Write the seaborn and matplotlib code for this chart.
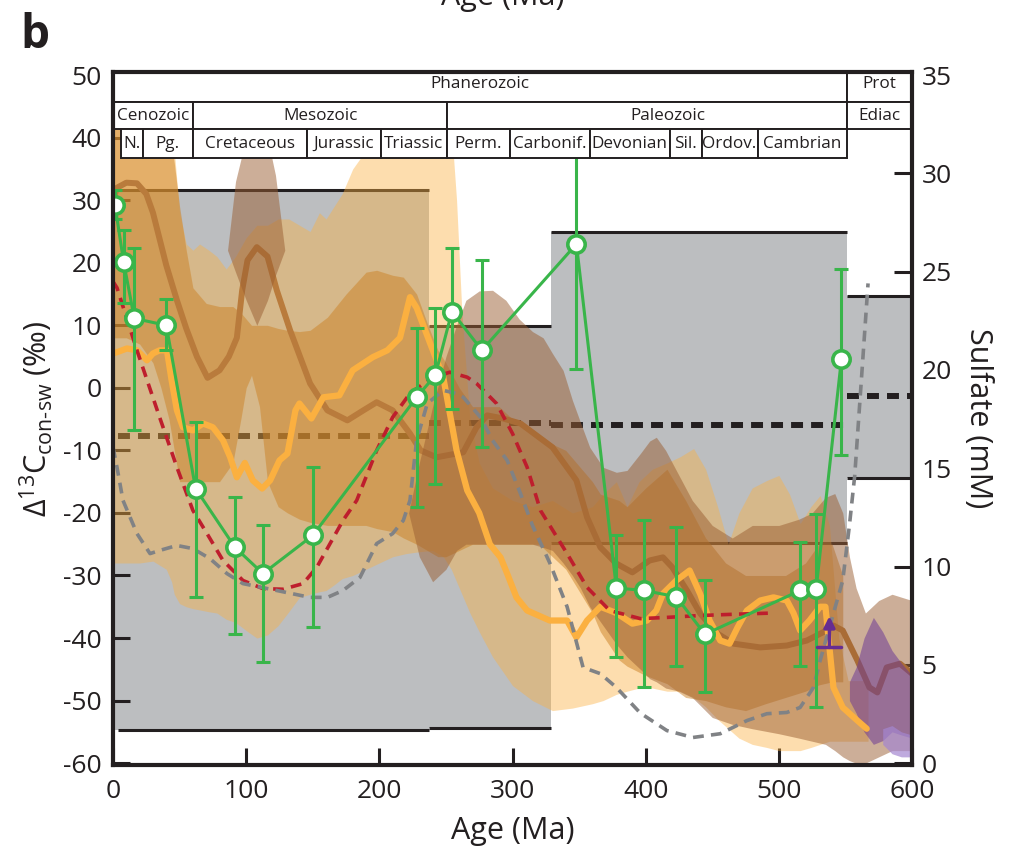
import numpy as np
import pandas as pd
import matplotlib
matplotlib.use("Agg")
import matplotlib.pyplot as plt
from matplotlib.patches import Rectangle
import seaborn as sns

# ---------------- data ----------------
# brown model curve (Ma, permil)
BROWN_AGE = [0, 3, 10, 18, 25, 30, 40, 48, 55, 63, 71, 80, 87, 93, 97, 101, 108, 116, 123, 133,
             148, 161, 176, 188, 198, 210, 223, 231, 243, 263, 273, 281, 293, 306, 330, 348, 356,
             366, 378, 390, 403, 413, 420, 431, 441, 454, 466, 486, 506, 521, 533, 541, 548, 559,
             568, 574, 581, 591, 600]
BROWN_D13C = [30, 32, 32.8, 32.7, 31, 28, 19.6, 14, 9.5, 5, 1.6, 2.8, 5, 8, 15.6, 20.4, 22.5, 21,
              15.6, 9.2, 0.7, -3.6, -5.2, -3.6, -2.3, -3.6, -7.3, -10, -11.1, -10.3, -6.3, -4.4,
              -4.9, -5.7, -9.5, -14.8, -20.7, -25.5, -28.1, -29.5, -27.6, -27.1, -28.7, -32.4,
              -36.1, -39.3, -40.9, -41.5, -41.2, -40.4, -39.1, -38, -38.8, -43.6, -47.9, -48.7,
              -44.7, -44.1, -45.7]

# orange record
ORANGE_AGE = [0, 3, 10.5, 18, 25.5, 30, 35, 40.5, 44, 48, 52.5, 60, 67.6, 75, 82.6, 88, 93, 99,
              105, 112, 118, 125, 131, 137, 140, 149, 158, 170, 180, 195, 206, 215.5, 223, 228,
              238, 248, 258, 266, 275, 283, 291, 296, 303, 311, 328, 341, 348, 356, 366, 378,
              390, 401, 408, 413, 423, 433, 441, 448, 456, 463, 469, 476, 486, 496, 506, 511,
              516, 523, 531, 535, 538, 541, 548, 559, 566]
ORANGE_D13C = [5.5, 5.7, 6.3, 6.0, 4.4, 5.5, 6, 6, 1.2, -3.6, -6.3, -6.8, -5.7, -6.3, -8.4, -11.1,
               -14.3, -12, -14.8, -16.1, -14.8, -11.6, -10.5, -3.6, -2.5, -4.9, -1.5, -1.2, 2.8,
               4.9, 6, 8, 14.5, 12.8, 7.2, 1.7, -10, -16.4, -20, -25, -27.1, -29.7, -33.5, -35.6,
               -37.2, -37.2, -39.9, -37.2, -35, -36, -37.7, -37.2, -35.6, -32.9, -30.8, -29.2,
               -33, -37.2, -40.4, -40.9, -38.3, -35.6, -34, -33.5, -34, -36, -38.8, -37.2, -35,
               -35, -41.5, -47.9, -51.1, -53.2, -54.5]

# red dashed model
RED_AGE = [0, 3, 18, 35, 48, 60, 70.6, 82.6, 97.6, 112.6, 127.7, 142.7, 153, 163, 172.7, 183,
           198, 210, 223, 240, 253, 266, 273, 288, 300, 311, 321, 341, 356, 373, 396, 416, 441,
           466, 496]
RED_D13C = [17, 16, 6, -4.7, -12.7, -19.6, -23.3, -27.6, -30.8, -32.1, -32.2, -31.3, -28.7,
            -24.9, -21.2, -18, -10, -4.7, -0.9, 1.7, 2.5, 1.7, 0.7, -2.5, -7.3, -12.7, -19.6,
            -26.5, -31.9, -35.6, -36.9, -36.7, -36.4, -36.2, -36]

# grey dashed model
GRAY_AGE = [0, 3, 7.5, 18, 27.8, 35, 48, 60, 72.8, 85.6, 97.6, 123, 148, 161, 172.7, 185.5, 198,
            210, 218, 223, 228, 236, 248, 258, 263, 276, 285, 296, 306, 315, 328, 341, 353, 366,
            378, 396, 416, 435.5, 456, 476, 491, 506, 516, 526, 531, 538, 548, 553, 557, 563, 567]
GRAY_D13C = [-9.5, -12.7, -18, -23.3, -26.5, -26, -25.2, -25.7, -27.3, -29.7, -31.3, -32.4, -33.5,
             -33.5, -32.4, -30.3, -24.9, -23.3, -21.2, -18, -8.4, -2.5, -0.4, -0.9, -1.5, -4.7,
             -8.4, -11.6, -16.9, -22, -28, -35, -44.7, -45.7, -47.9, -52, -54.8, -55.9, -55.3,
             -53.2, -52.1, -51.9, -51.1, -47.9, -43.6, -38.3, -30.8, -22, -14, 4.4, 16.7]

# green data with error bars
GREEN_AGE = [1.5, 8, 16, 40, 62, 91.6, 112.6, 150, 228, 242, 254.5, 277, 348, 378, 399, 423,
             444.5, 516, 528, 547]
GREEN_D13C = [29.2, 20.1, 11.1, 10, -16.1, -25.5, -29.7, -23.6, -1.5, 2, 12.2, 6, 23, -32, -32.4,
              -33.4, -39.4, -32.4, -32.2, 4.6]
GREEN_LOW = [27, 13.5, -6.8, 6, -33.5, -39.3, -43.9, -38.2, -19.1, -15.4, -3.4, -9.5, 3, -43,
             -47.9, -44.4, -48.6, -44.4, -51.1, -10.8]
GREEN_HIGH = [31.6, 25.2, 22.3, 14.2, -5.4, -17.5, -22, -12.7, 9.5, 12.7, 22.3, 20.4, 44, -23.6,
              -21.2, -22.2, -30.8, -24.6, -20.1, 19]

# purple arrow (lower limit)
ARROW_AGE = [538]
ARROW_D13C = [-41.5]

# sulfate boxes (right axis, mM)
SULF_START = [0, 237, 329, 551]
SULF_END = [237, 329, 551, 600]
SULF_LOW = [1.68, 1.78, 11.19, 14.5]
SULF_HIGH = [29.15, 22.23, 27.01, 23.76]
SULF_MEAN = [16.64, 17.30, 17.2, 18.67]

# envelope of the orange record
P_AGE = [0, 10, 20, 30, 40, 44, 46, 50, 55, 60, 65, 72, 78, 85, 92, 100, 108, 116, 124, 132, 140,
         148, 155, 160, 166, 172, 180, 190, 200, 210, 220, 230, 240, 248, 254, 258, 262, 268, 275,
         285, 300, 315, 330, 345, 360, 368, 378, 386, 395, 405, 416, 426, 436, 445, 454, 462, 470,
         480, 491, 500, 508, 516, 524, 531, 538, 545, 552, 560, 567]
P_HIGH = [45, 45, 45, 45, 45, 45, 38, 28, 23, 22, 23, 22, 21, 19, 21, 24, 26, 26, 27, 27, 26, 25,
          28, 27, 29, 31, 35, 38, 42, 45, 45, 45, 45, 45, 42, 30, 12, -5, -12, -16, -18, -19, -18,
          -20, -19, -17, -15, -19, -15, -13, -12, -11, -9.7, -13, -19, -25, -20, -16, -14.8, -14,
          -17, -21.7, -19, -17.2, -22, -40, -46.8, -46.8, -46.8]
P_LOW = [-28, -28, -28, -27.7, -29, -31, -33, -34.5, -35, -35.3, -35.5, -35.8, -36, -37, -37.5,
         -38.8, -40, -39.5, -38, -35.8, -33.5, -33, -32.6, -32.4, -31.5, -30.5, -30, -29, -28, -27,
         -26.5, -26.2, -26, -27, -29, -31, -33, -36, -39, -43, -47.6, -50, -51.6, -51.2, -50.5,
         -50, -49, -48.5, -48, -48, -48.5, -48.5, -49.5, -51, -53, -54.5, -56, -57, -57.5, -58,
         -58, -58, -57.5, -57, -56.5, -56.5, -56.5, -56.5, -56.5]

# envelope of the brown model
D_AGE = [0, 10, 20, 30, 36, 42, 46, 50, 55, 60, 70, 80, 90, 96, 100, 104, 110, 116, 124, 131, 140,
         148, 161, 175, 190, 198, 210, 218, 228, 236, 244, 250, 260, 270, 280, 290, 300, 320, 340,
         360, 366, 380, 386, 400, 416, 430, 445, 460, 475, 490, 505, 520, 530, 540, 548]
D_HIGH = [45, 45, 45, 45, 45, 42, 36, 29, 22, 16, 13.5, 13, 13, 12, 11, 10, 10, 10, 9.5, 9.2, 9,
          9.2, 11.3, 15, 18.5, 18.8, 18, 17.7, 15, 10.3, 6, 4, 0, -3, -3, -3, -5, -8, -10, -15,
          -17, -18, -19, -16, -13, -18, -24, -28, -30, -30, -30, -28, -25, -25, -30]
D_LOW = [8, 8, 7, 4, 0, -5, -10, -15, -15, -15, -15, -15, -12, -5, 0, 2, -3, -15, -19, -20, -21,
         -21.5, -22, -22, -22, -22.5, -23, -24, -25, -26, -27, -27, -26, -25, -25, -25, -25, -25,
         -29, -36, -39, -43.5, -44.5, -46, -47.3, -49.5, -50, -51, -51.6, -50.5, -49.5, -48.5,
         -47.5, -47, -47]

# third envelope (brown, translucent)
B1_AGE = [86, 92, 100, 108, 116, 122, 129]
B1_HIGH = [22, 33, 40, 42, 40, 34, 22]
B1_LOW = [22, 18.5, 14, 10, 14, 18, 22]
B2_AGE = [222, 230, 240, 250, 258, 265, 275, 285, 295, 305, 315, 323, 330, 338, 345, 351, 358,
          368, 378, 386, 396, 403, 408, 415, 425, 435, 450, 465, 480, 500, 515, 525, 535, 542,
          548, 553, 558, 565, 575, 585, 600]
B2_HIGH = [-20, -12, -3, 5, 10, 14, 15.5, 15.6, 14, 11, 9, 8, 5.5, 2.8, -2, -5.5, -9.5, -12.7,
           -13.5, -13.2, -10.5, -8.5, -7.9, -10, -14, -18, -22, -24, -22, -22, -21, -20, -17.5,
           -16.9, -20, -27, -32, -36, -34, -33, -34]
B2_LOW = [-20, -27, -31, -29, -26, -25, -25, -25, -25, -25, -25, -25.5, -26, -28, -30, -32, -35,
          -38, -41, -43, -45, -46.5, -47, -48, -48.5, -49.5, -52.7, -53.8, -54.5, -55.3, -56,
          -56.5, -57, -58, -59, -59.6, -60, -60, -59, -58, -58]

# Ediacaran purple envelopes
PU_AGE = [553, 558, 564, 571, 578, 585, 592, 600]
PU_HIGH = [-47, -44.7, -40, -36.7, -39, -42, -44, -46]
PU_LOW = [-50, -52, -55, -57, -56.4, -55, -55.5, -56]
LPU_AGE = [578, 585, 592, 600]
LPU_HIGH = [-54.5, -54, -55, -55.5]
LPU_LOW = [-57, -58.5, -59, -59]

# geological time-scale header
ROW1_NAMES = ["Phanerozoic", "Prot"]
ROW1_EDGES = [0, 551, 600]
ROW2_NAMES = ["Cenozoic", "Mesozoic", "Paleozoic", "Ediac"]
ROW2_EDGES = [0, 60, 251, 551, 600]
ROW3_NAMES = ["N.", "Pg.", "Cretaceous", "Jurassic", "Triassic", "Perm.", "Carbonif.",
              "Devonian", "Sil.", "Ordov.", "Cambrian"]
ROW3_EDGES = [6, 22.5, 60, 146, 201, 251, 298, 358, 418, 442, 484, 551]

# ---------------- styling ----------------
sns.set_theme(style="white")
plt.rcParams["font.family"] = ["Open Sans", "DejaVu Sans"]
plt.rcParams["axes.unicode_minus"] = False
plt.rcParams["mathtext.fontset"] = "custom"
plt.rcParams["mathtext.rm"] = "Open Sans"
plt.rcParams["mathtext.it"] = "Open Sans:italic"

INK = "#231F20"
GREEN = "#39B54A"
YMIN, YMAX = -60.3, 50.5
HDR = [50.5, 45.68, 41.36, 36.72]

fig = plt.figure(figsize=(10.33, 8.51), dpi=100)
ax = fig.add_axes([113 / 1033, 1 - 765 / 851, 799 / 1033, 693 / 851])
ax2 = ax.twinx()
ax.set_zorder(2)
ax2.set_zorder(1)
ax.patch.set_visible(False)

ax.set_xlim(0, 600)
ax.set_ylim(YMIN, YMAX)
ax2.set_ylim((YMIN + 60) * 35 / 110, (YMAX + 60) * 35 / 110)

# sulfate boxes on the right axis (drawn underneath the envelopes)
for s, e, lo, hi, m in zip(SULF_START, SULF_END, SULF_LOW, SULF_HIGH, SULF_MEAN):
    ax2.fill_between([s, e], [lo, lo], [hi, hi], color="#BCBEC0", lw=0, zorder=1)
    s2 = s + 4 if s == 0 else s
    ax2.plot([s2, e], [hi, hi], color=INK, lw=2.2, zorder=2, solid_capstyle="butt")
    ax2.plot([s2, e], [lo, lo], color=INK, lw=2.2, zorder=2, solid_capstyle="butt")
    ax2.plot([s2, e], [m, m], color=INK, lw=4.3, ls=(0, (2.0, 1.35)), zorder=2)

# envelopes
ax.fill_between(P_AGE, P_LOW, P_HIGH, color="#FBB040", alpha=0.42, lw=0, zorder=1)
ax.fill_between(D_AGE, D_LOW, D_HIGH, color="#CC8226", alpha=0.5, lw=0, zorder=2)

sns.lineplot(x=BROWN_AGE, y=BROWN_D13C, ax=ax, sort=False, estimator=None, color="#B97B3C",
             lw=4.3, zorder=3, legend=False)

ax.fill_between(B1_AGE, B1_LOW, B1_HIGH, color="#9A5E32", alpha=0.5, lw=0, zorder=4)
ax.fill_between(B2_AGE, B2_LOW, B2_HIGH, color="#9A5E32", alpha=0.5, lw=0, zorder=4)
ax.fill_between(PU_AGE, PU_LOW, PU_HIGH, color="#6E3C96", alpha=0.55, lw=0, zorder=5)
ax.fill_between(LPU_AGE, LPU_LOW, LPU_HIGH, color="#A486D0", alpha=0.7, lw=0, zorder=5)

sns.lineplot(x=ORANGE_AGE, y=ORANGE_D13C, ax=ax, sort=False, estimator=None, color="#FBB040",
             lw=4.5, zorder=6, legend=False)
sns.lineplot(x=RED_AGE, y=RED_D13C, ax=ax, sort=False, estimator=None, color="#BE1E2D",
             lw=2.6, ls=(0, (3.0, 2.0)), zorder=7, legend=False)
sns.lineplot(x=GRAY_AGE, y=GRAY_D13C, ax=ax, sort=False, estimator=None, color="#808285",
             lw=2.6, ls=(0, (3.0, 2.0)), zorder=7, legend=False)

# green data
g = np.array(GREEN_D13C)
ax.errorbar(GREEN_AGE, GREEN_D13C, yerr=[g - np.array(GREEN_LOW), np.array(GREEN_HIGH) - g],
            fmt="none", ecolor=GREEN, elinewidth=2.2, capsize=5, capthick=2.2, zorder=8)
sns.lineplot(x=GREEN_AGE, y=GREEN_D13C, ax=ax, sort=False, estimator=None, color=GREEN, lw=2.2,
             marker="o", ms=12.5, mfc="white", mec=GREEN, mew=2.6, zorder=9, legend=False)

# purple lower-limit arrow
for a, v in zip(ARROW_AGE, ARROW_D13C):
    ax.plot([a - 9, a + 9], [v, v], color="#662D91", lw=2.5, zorder=9)
    ax.annotate("", xy=(a, v + 5), xytext=(a, v),
                arrowprops=dict(arrowstyle="-|>", color="#662D91", lw=2.5, mutation_scale=16,
                                shrinkA=0, shrinkB=0), zorder=9)

# header (time scale)
def header_row(edges, names, y0, y1, size, text_x=None):
    for i, name in enumerate(names):
        x0, x1 = edges[i], edges[i + 1]
        ax.add_patch(Rectangle((x0, y0), x1 - x0, y1 - y0, facecolor="white", edgecolor=INK,
                               lw=1.4, zorder=20))
        xc = (x0 + x1) / 2 if text_x is None or text_x[i] is None else text_x[i]
        ax.text(xc, (y0 + y1) / 2, name, ha="center", va="center", fontsize=size, color=INK,
                zorder=21)

header_row(ROW1_EDGES, ROW1_NAMES, HDR[1], HDR[0] + 1, 12.3)
header_row(ROW2_EDGES, ROW2_NAMES, HDR[2], HDR[1], 12.3, [None, None, 417, None])
header_row(ROW3_EDGES, ROW3_NAMES, HDR[3], HDR[2], 12.3)

# axes, ticks, labels
for sp in ax.spines.values():
    sp.set_linewidth(3)
    sp.set_color(INK)
    sp.set_zorder(30)
for sp in ax2.spines.values():
    sp.set_visible(False)

ax.set_xticks(range(0, 601, 100))
ax.set_yticks(range(-60, 51, 10))
ax2.set_yticks(range(0, 36, 5))
ax.tick_params(axis="y", direction="in", length=12, width=2.2, color=INK, labelsize=19,
               pad=8, labelcolor=INK, left=True, right=False)
ax.tick_params(axis="x", direction="in", length=12, width=2.2, color=INK, labelsize=19,
               pad=10, labelcolor=INK, bottom=True, top=False)
ax2.tick_params(axis="y", direction="in", length=13, width=2.2, color=INK, labelsize=19,
                pad=7, labelcolor=INK, right=True, left=False)

ax.set_xlabel("Age (Ma)", fontsize=22, color=INK, labelpad=9)
ax.set_ylabel("Δ$^{13}$C$_{\\mathregular{con‐sw}}$ (‰)", fontsize=22, color=INK, labelpad=6)
ax2.set_ylabel("Sulfate (mM)", fontsize=22, color=INK, rotation=270, va="bottom", labelpad=8)
ax.grid(False)
ax2.grid(False)

fig.text(35 / 1033, 1 - 36 / 851, "b", fontsize=33, fontweight="bold", ha="center",
         va="center", color=INK)
fig.text(0.487, 1.004, "Age (Ma)", fontsize=22, ha="center", va="center", color=INK)

fig.savefig("out.png", dpi=100)
